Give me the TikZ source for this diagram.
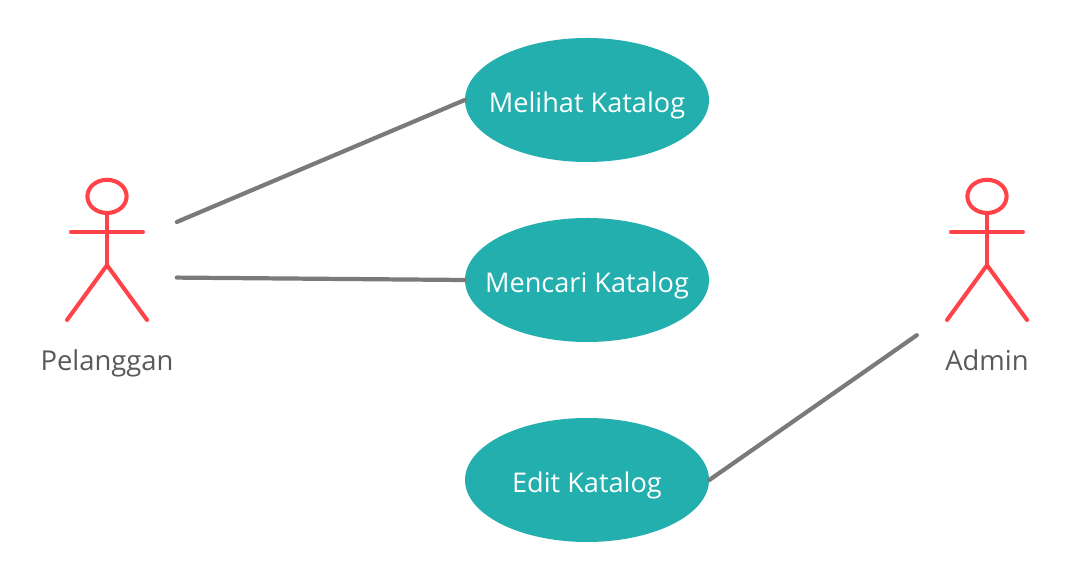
\documentclass[tikz,border=0pt]{standalone}
\usepackage{fontspec}
\setmainfont{Open Sans}
\usepackage{xcolor}
\usetikzlibrary{shapes.geometric}
\definecolor{caseteal}{HTML}{24AFAF}
\definecolor{actorred}{HTML}{FF4348}
\definecolor{linkgray}{HTML}{7A7A7A}
\definecolor{labelgray}{HTML}{595959}
\newcommand{\casename}[1]{\makebox[0pt]{#1}}

\begin{document}
\begin{tikzpicture}[
        usecase/.style={ellipse, fill=caseteal, minimum width=6.1cm, minimum height=3.1cm, inner sep=0pt, font=\fontsize{19.3}{23}\selectfont, text=white, text height=0.62cm, text depth=0pt},
        limb/.style={draw=actorred, line width=2.9pt, line cap=round},
        head/.style={ellipse, draw=actorred, line width=2.9pt, minimum width=0.98cm, minimum height=0.83cm, inner sep=0pt},
        actorlabel/.style={anchor=base, font=\fontsize{19.5}{23}\selectfont, text=labelgray},
        link/.style={draw=linkgray, line width=3pt, line cap=round},
    ]
    \useasboundingbox (0, 0) rectangle (26.7, 14.5);

    % Use cases
    \node[usecase] (melihat) at (14.675, 12.0) {\casename{Melihat Katalog}};
    \node[usecase] (mencari) at (14.675, 7.5) {\casename{Mencari Katalog}};
    \node[usecase] (edit) at (14.675, 2.5) {\casename{Edit Katalog}};

    % Actors
    \foreach \x/\n/\v in {2.675/pelanggan/Pelanggan, 24.675/admin/Admin} {
        \node[head] (\n head) at (\x, 9.59) {};
        \coordinate (\n hip) at (\x, 7.87);
        \draw[limb] (\n head.south) -- (\n hip);
        \draw[limb] (\x-0.9, 8.7) -- (\x+0.9, 8.7);
        \draw[limb] (\x-1.0, 6.5) -- (\n hip) -- (\x+1.0, 6.5);
        \node[actorlabel] (\n label) at (\x, 5.235) {\v};
    }

    % Free ends of the links
    \coordinate (pelangganup) at (4.42, 8.95);
    \coordinate (pelanggandown) at (4.42, 7.56);
    \coordinate (adminend) at (22.92, 6.12);

    % Links
    \draw[link] (pelangganup) -- (melihat.west);
    \draw[link] (pelanggandown) -- (mencari.west);
    \draw[link] (edit.east) -- (adminend);
\end{tikzpicture}
\end{document}
